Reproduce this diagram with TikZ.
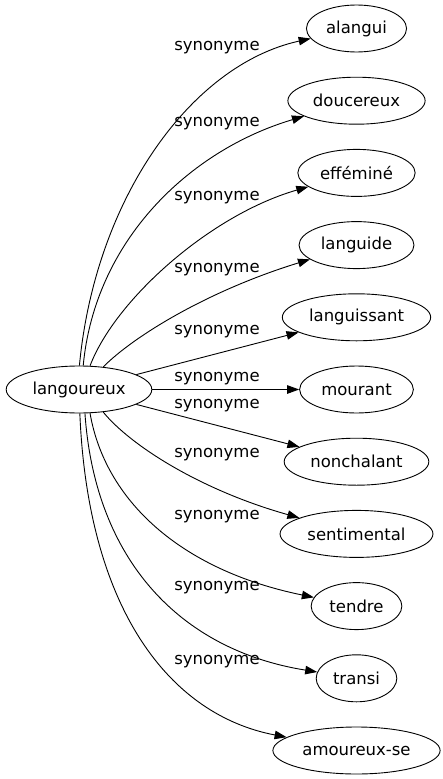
\documentclass[tikz,border=0pt]{standalone}
\usepackage{fontspec}
\setmainfont{DejaVu Sans}
\usetikzlibrary{shapes.geometric, arrows.meta}
\newcommand{\gvfont}{\fontsize{16.5pt}{19pt}\selectfont}
\tikzstyle{word} = [ellipse, draw, line width=0.9pt, minimum height=47pt, inner xsep=5pt, inner ysep=2pt, font=\gvfont]
\tikzstyle{arrow} = [line width=0.9pt, -{Triangle[length=12pt, width=8.5pt]}]
\tikzstyle{rel} = [font=\gvfont, anchor=mid, inner sep=0pt]

\begin{document}
\begin{tikzpicture}[x=1pt, y=-1pt]
\useasboundingbox (0,0) rectangle (443,779);

% Source word
\node[word] (lang) at (79, 389.5) {langoureux};

% Synonyms, one column on the right
\node[word] (alangui) at (356.5, 28.5) {alangui};
\node[word] (doucereux) at (356.5, 100.7) {doucereux};
\node[word] (effemine) at (356.5, 172.9) {efféminé};
\node[word] (languide) at (356.5, 245.1) {languide};
\node[word] (languissant) at (356.5, 317.3) {languissant};
\node[word] (mourant) at (356.5, 389.5) {mourant};
\node[word] (nonchalant) at (356.5, 461.7) {nonchalant};
\node[word] (sentimental) at (356.5, 533.9) {sentimental};
\node[word] (tendre) at (356.5, 606.1) {tendre};
\node[word] (transi) at (356.5, 678.3) {transi};
\node[word] (amoureux) at (356.5, 750.5) {amoureux-se};

% Edges
\draw[arrow] (lang.89) .. controls (95,200) and (190,65) .. (alangui);
\draw[arrow] (lang.80) .. controls (95,240) and (190,150) .. (doucereux);
\draw[arrow] (lang.65) .. controls (115,300) and (210,215) .. (effemine);
\draw[arrow] (lang.43) .. controls (135,335) and (210,290) .. (languide);
\draw[arrow] (lang) -- (languissant);
\draw[arrow] (lang) -- (mourant);
\draw[arrow] (lang) -- (nonchalant);
\draw[arrow] (lang.-43) .. controls (130,445) and (200,490) .. (sentimental);
\draw[arrow] (lang.-65) .. controls (105,500) and (180,570) .. (tendre);
\draw[arrow] (lang.-76) .. controls (95,560) and (180,650) .. (transi);
\draw[arrow] (lang.-88) .. controls (88,610) and (170,715) .. (amoureux);

% Edge labels
\node[rel] (r1) at (217, 48) {synonyme};
\node[rel] (r2) at (217, 124) {synonyme};
\node[rel] (r3) at (217, 198) {synonyme};
\node[rel] (r4) at (217, 270) {synonyme};
\node[rel] (r5) at (217, 332) {synonyme};
\node[rel] (r6) at (217, 379) {synonyme};
\node[rel] (r7) at (217, 406) {synonyme};
\node[rel] (r8) at (217, 455) {synonyme};
\node[rel] (r9) at (217, 517) {synonyme};
\node[rel] (r10) at (217, 588) {synonyme};
\node[rel] (r11) at (217, 662) {synonyme};

\end{tikzpicture}
\end{document}
